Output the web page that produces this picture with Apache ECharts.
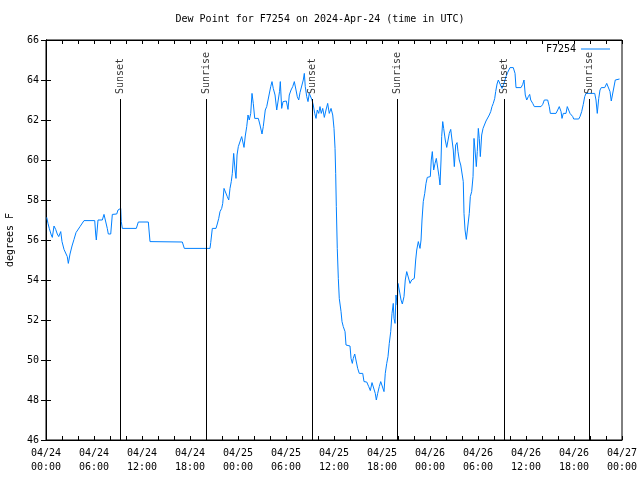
<!DOCTYPE html>
<html>
<head>
<meta charset="utf-8">
<script src="https://cdn.jsdelivr.net/npm/echarts@6/dist/echarts.min.js"></script>
<style>html,body{margin:0;padding:0;background:#fff;}#c{width:640px;height:480px;}</style>
</head>
<body>
<div id="c"></div>
<script>
const titleText = 'Dew Point for F7254 on 2024-Apr-24 (time in UTC)';
const seriesName = 'F7254';
const yAxisName = 'degrees F';
const xTickLabels = ['04/24\n00:00','04/24\n06:00','04/24\n12:00','04/24\n18:00','04/25\n00:00','04/25\n06:00','04/25\n12:00','04/25\n18:00','04/26\n00:00','04/26\n06:00','04/26\n12:00','04/26\n18:00','04/27\n00:00'];
// hours since 04/24 00:00 UTC
const hours = [0.09,0.25,0.41,0.66,0.79,1.0,1.21,1.41,1.59,1.84,2.0,2.25,2.5,2.66,2.79,3.0,3.25,3.5,3.75,4.0,4.25,4.5,4.75,6.09,6.21,6.29,6.5,7.04,7.25,7.5,7.66,7.79,8.09,8.29,8.84,9.0,9.13,9.34,9.41,9.54,11.29,11.54,12.79,13.0,17.04,17.29,20.5,20.59,20.79,21.25,21.41,21.59,21.75,21.96,22.09,22.25,22.5,22.66,22.84,23.0,23.16,23.29,23.46,23.63,23.75,23.88,24.04,24.29,24.46,24.59,24.75,24.91,25.09,25.25,25.41,25.59,25.75,25.91,26.09,26.54,26.75,27.0,27.16,27.41,27.59,27.75,27.88,28.09,28.25,28.41,28.63,28.84,29.06,29.19,29.29,29.46,29.63,29.84,30.04,30.25,30.41,30.63,30.84,31.04,31.25,31.41,31.59,31.75,31.96,32.16,32.29,32.41,32.59,32.75,32.91,33.09,33.25,33.41,33.59,33.75,33.91,34.09,34.25,34.41,34.59,34.79,35.0,35.21,35.41,35.63,35.84,36.0,36.13,36.21,36.29,36.41,36.54,36.66,36.88,37.0,37.16,37.38,37.5,38.0,38.13,38.29,38.41,38.59,38.79,38.96,39.16,39.59,39.75,40.09,40.34,40.54,40.75,41.0,41.16,41.29,41.46,41.66,41.84,42.09,42.25,42.41,42.59,42.75,42.91,43.09,43.25,43.41,43.5,43.63,43.75,43.91,44.0,44.16,44.38,44.54,44.75,44.91,45.09,45.34,45.5,45.71,46.04,46.21,46.34,46.54,46.75,46.88,47.0,47.16,47.34,47.5,47.66,47.88,48.04,48.16,48.29,48.46,48.63,48.79,49.0,49.13,49.25,49.38,49.46,49.59,49.71,49.91,50.09,50.29,50.41,50.59,50.75,50.91,51.04,51.21,51.38,51.5,51.66,51.84,52.09,52.16,52.25,52.38,52.54,52.79,52.91,53.04,53.21,53.38,53.5,53.63,53.79,53.91,54.04,54.16,54.29,54.46,54.63,54.84,55.0,55.25,55.41,55.59,55.75,55.91,56.09,56.21,56.38,56.54,56.75,57.0,57.25,57.5,57.71,58.0,58.41,58.63,58.75,59.38,59.59,59.75,59.91,60.09,60.29,60.46,60.59,60.84,61.04,61.88,62.09,62.29,62.71,62.91,63.04,63.75,63.96,64.16,64.38,64.5,64.66,64.84,65.0,65.16,65.34,65.5,65.66,65.84,65.96,66.59,66.75,66.96,67.16,67.34,67.5,68.59,68.75,68.91,69.09,69.25,69.41,69.84,70.09,70.34,70.5,70.66,70.91,71.04,71.16,71.69];
const dewPoint = [57.13,56.83,56.58,56.25,56.13,56.7,56.53,56.3,56.17,56.42,55.92,55.53,55.47,55.17,54.83,55.3,55.7,56.03,56.37,56.47,56.67,56.73,56.97,56.97,56.3,56.0,57.0,57.0,57.28,57.28,56.58,56.3,56.3,57.28,57.3,57.5,57.58,57.58,56.92,56.58,56.58,56.9,56.9,55.92,55.9,55.58,55.58,55.87,56.58,56.58,56.8,57.08,57.42,57.58,57.83,58.58,58.58,58.17,58.0,58.58,58.92,59.33,60.33,59.5,59.08,60.25,60.67,60.75,61.17,61.25,60.63,61.2,61.67,62.25,62.0,62.33,63.33,62.83,62.08,62.08,61.75,61.3,61.67,62.5,62.67,62.75,63.25,63.67,63.92,63.58,63.25,62.5,62.5,63.42,63.92,62.58,62.92,63.0,62.95,62.53,63.25,63.5,63.67,63.92,63.5,63.17,63.0,63.37,63.42,64.0,64.33,63.67,63.17,62.92,63.33,63.25,63.0,62.75,62.33,62.08,62.5,62.33,62.67,62.33,62.58,62.13,62.5,62.83,62.33,62.58,62.25,61.58,60.58,59.33,57.67,55.58,54.08,53.08,52.42,51.92,51.67,51.42,50.75,50.7,50.08,49.83,50.08,50.3,50.25,49.58,49.33,49.33,48.92,48.9,48.67,48.47,48.87,48.87,48.33,48.0,48.33,48.67,48.92,48.9,48.42,49.33,49.83,50.17,50.83,51.42,52.33,52.83,52.08,51.83,53.25,52.75,53.83,53.5,53.0,52.8,53.17,54.0,54.42,54.42,53.83,54.0,54.08,55.0,55.5,55.92,55.58,56.0,57.0,57.92,58.33,58.83,59.13,59.2,59.17,60.0,60.42,59.5,59.83,60.08,60.13,59.17,58.75,60.0,61.17,61.92,61.58,61.0,60.63,60.63,61.33,61.53,61.0,60.5,59.67,60.75,60.87,60.42,60.0,59.75,59.7,58.92,57.33,56.5,56.03,56.03,57.33,58.17,58.42,59.17,61.08,60.5,59.67,60.42,61.58,61.08,60.17,61.25,61.58,61.67,61.95,62.03,62.25,62.42,62.67,62.83,63.08,63.42,63.8,64.0,63.95,63.58,63.83,64.17,64.38,64.62,64.62,64.33,63.62,63.62,63.78,64.0,63.25,63.0,63.17,63.28,63.0,62.83,62.67,62.67,62.78,63.0,63.0,62.67,62.33,62.33,62.5,62.67,62.42,62.08,62.33,62.42,62.33,62.67,62.58,62.33,62.42,62.17,62.05,62.05,62.17,62.42,62.78,63.17,63.33,63.33,63.0,62.33,63.08,63.5,63.62,63.62,63.83,63.83,63.42,62.95,62.95,63.75,64.0,64.05];
const sunsetHours = [9.34, 33.25, 57.29];
const sunriseHours = [20.08, 43.92, 67.96];
const sunLineTop = 63.05;
const yMin = 46, yMax = 66, yStep = 2;
const xMin = 0, xMax = 72, xStep = 2;

const FONT = 'DejaVu Sans Mono';
const chart = echarts.init(document.getElementById('c'), null, {renderer: 'canvas'});

const lineData = hours.map((h, i) => [h, dewPoint[i]]);
const events = [];
sunsetHours.forEach(h => events.push({name: 'Sunset', t: h}));
sunriseHours.forEach(h => events.push({name: 'Sunrise', t: h}));

const xLabelFmt = v => {
  const r = Math.round(v);
  if (r % 6 !== 0) return '';
  return xTickLabels[r / 6] || '';
};

const option = {
  animation: false,
  backgroundColor: '#fff',
  title: {
    text: titleText, left: 'center', top: 9,
    textStyle: {fontFamily: FONT, fontSize: 10, fontWeight: 'normal', color: '#000'}
  },
  legend: {
    data: [{name: seriesName, icon: 'rect'}], right: 30, top: 44, align: 'right', padding: 0,
    itemWidth: 29, itemHeight: 1, selectedMode: false,
    textStyle: {fontFamily: FONT, fontSize: 10, color: '#000'}
  },
  grid: {left: 46, right: 18, top: 40, bottom: 40, containLabel: false, outerBoundsMode: 'none',
         show: true, borderColor: '#000', borderWidth: 1, backgroundColor: 'transparent'},
  xAxis: [{
    type: 'value', min: xMin, max: xMax, interval: xStep, position: 'bottom',
    axisLine: {show: true, lineStyle: {color: '#000', width: 1}},
    axisTick: {show: true, inside: true, length: 4, lineStyle: {color: '#000'}},
    axisLabel: {formatter: xLabelFmt, fontFamily: FONT, fontSize: 10, color: '#000',
                lineHeight: 14, margin: 6, showMinLabel: true, showMaxLabel: true, hideOverlap: false},
    splitLine: {show: false}
  }, {
    type: 'value', min: xMin, max: xMax, interval: xStep, position: 'top',
    axisLine: {show: true, lineStyle: {color: '#000', width: 1}},
    axisTick: {show: true, inside: true, length: 4, lineStyle: {color: '#000'}},
    axisLabel: {show: false}, splitLine: {show: false}
  }],
  yAxis: [{
    type: 'value', min: yMin, max: yMax, interval: yStep, position: 'left',
    name: yAxisName, nameLocation: 'middle', nameGap: 31, nameRotate: 90,
    nameTextStyle: {fontFamily: FONT, fontSize: 10, color: '#000'},
    axisLine: {show: true, lineStyle: {color: '#000', width: 1}},
    axisTick: {show: true, inside: true, length: 5, lineStyle: {color: '#000'}},
    axisLabel: {fontFamily: FONT, fontSize: 10, color: '#000', margin: 7},
    splitLine: {show: false}
  }, {
    type: 'value', min: yMin, max: yMax, interval: yStep, position: 'right',
    axisLine: {show: true, lineStyle: {color: '#000', width: 1}},
    axisTick: {show: true, inside: true, length: 5, lineStyle: {color: '#000'}},
    axisLabel: {show: false}, splitLine: {show: false}
  }],
  series: [{
    name: seriesName, type: 'line', data: lineData, xAxisIndex: 0, yAxisIndex: 0,
    symbol: 'none', showSymbol: false,
    lineStyle: {color: 'rgb(0,128,255)', width: 1},
    itemStyle: {color: 'rgb(0,128,255)'},
    z: 3,
    markLine: {
      silent: true, symbol: ['none', 'none'], animation: false,
      lineStyle: {color: '#000', width: 1, type: 'solid'},
      label: {show: false},
      data: events.map(e => [{coord: [e.t, yMin]}, {coord: [e.t, sunLineTop]}])
    }
  }, {
    name: 'events', type: 'scatter', xAxisIndex: 0, yAxisIndex: 0,
    symbol: 'circle', symbolSize: 0, itemStyle: {color: 'transparent'},
    silent: true, z: 4,
    data: events.map(e => ({name: e.name, value: [e.t, sunLineTop]})),
    label: {
      show: true, formatter: p => p.name, position: [0, -5], rotate: 90,
      align: 'left', verticalAlign: 'middle',
      fontFamily: FONT, fontSize: 10, color: '#000'
    }
  }]
};
chart.setOption(option);
</script>
</body>
</html>
